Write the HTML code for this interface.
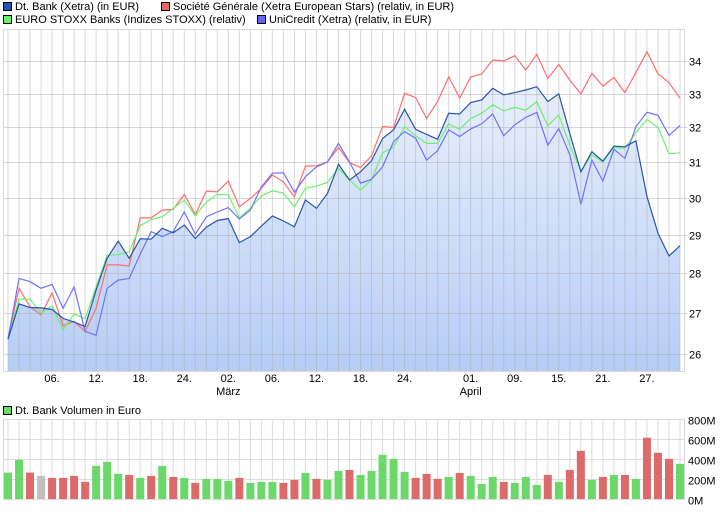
<!DOCTYPE html>
<html><head><meta charset="utf-8">
<style>
html,body{margin:0;padding:0;background:#fff;}
body{width:726px;height:508px;overflow:hidden;font-family:"Liberation Sans",sans-serif;}
svg text{font-family:"Liberation Sans",sans-serif;font-size:11px;fill:#000;}
</style></head>
<body>
<svg id="chart" width="726" height="508" xmlns="http://www.w3.org/2000/svg">
<defs>
<linearGradient id="fillGrad" x1="0" y1="30" x2="0" y2="371" gradientUnits="userSpaceOnUse">
<stop offset="0" stop-color="#f2f6fe"/><stop offset="1" stop-color="#b6cdf6"/>
</linearGradient>
</defs>
<g>
<g><rect x="3.5" y="2.5" width="8" height="8" fill="#1f55b8" stroke="#000"/><text x="15" y="10">Dt. Bank (Xetra) (in EUR)</text></g>
<g><rect x="161.5" y="2.5" width="8" height="8" fill="#f06464" stroke="#000"/><text x="173" y="10">Société Générale (Xetra European Stars) (relativ, in EUR)</text></g>
<g><rect x="3.5" y="15.5" width="8" height="8" fill="#64f064" stroke="#000"/><text x="15" y="23">EURO STOXX Banks (Indizes STOXX) (relativ)</text></g>
<g><rect x="257.5" y="15.5" width="8" height="8" fill="#6464f0" stroke="#000"/><text x="269" y="23">UniCredit (Xetra) (relativ, in EUR)</text></g>
</g>
<g id="main"></g>
<g><rect x="3.5" y="406.5" width="8" height="8" fill="#6ad96a" stroke="#000"/><text x="15" y="414">Dt. Bank Volumen in Euro</text></g>
<g id="vol"></g>
</svg>
<script>
const dtBank=[26.35,27.22,27.13,27.12,27.08,26.86,26.77,26.66,27.57,28.38,28.83,28.38,28.89,28.88,29.17,29.05,29.26,28.90,29.20,29.38,29.43,28.79,28.95,29.23,29.50,29.37,29.21,29.94,29.71,30.12,30.93,30.49,30.72,31.03,31.67,31.92,32.53,31.94,31.79,31.65,32.41,32.39,32.73,32.81,33.16,32.96,33.03,33.11,33.21,32.76,32.99,31.82,30.72,31.29,31.02,31.45,31.43,31.60,30.03,29.04,28.44,28.71];
const socGen=[26.36,27.61,27.15,26.95,27.49,26.68,26.79,26.54,27.11,28.21,28.21,28.18,29.45,29.45,29.66,29.68,30.09,29.54,30.18,30.16,30.46,29.75,29.98,30.26,30.63,30.44,30.02,30.88,30.89,31.00,31.41,30.98,30.84,31.17,32.02,31.99,33.01,32.88,32.26,32.76,33.51,32.86,33.51,33.60,34.03,34.00,34.17,33.72,34.21,33.46,33.89,33.41,32.99,33.62,33.23,33.49,33.03,33.64,34.29,33.60,33.33,32.86];
const stoxx=[26.36,27.34,27.34,26.99,27.17,26.58,26.97,26.85,27.65,28.46,28.47,28.55,29.24,29.41,29.48,29.71,29.93,29.51,29.88,30.09,30.08,29.45,29.72,30.05,30.19,30.13,29.75,30.26,30.32,30.42,30.82,30.49,30.21,30.49,31.26,31.42,32.02,31.75,31.53,31.53,32.10,31.94,32.26,32.41,32.66,32.48,32.59,32.50,32.76,32.04,32.36,31.48,30.74,31.20,31.00,31.41,31.39,31.84,32.23,31.99,31.23,31.26];
const uniCredit=[26.36,27.86,27.78,27.61,27.71,27.11,27.65,26.54,26.45,27.61,27.82,27.86,28.49,29.08,28.95,29.08,29.61,29.01,29.48,29.61,29.73,29.42,29.66,30.30,30.68,30.69,30.15,30.58,30.86,31.00,31.53,31.00,30.40,30.51,30.86,31.58,31.87,31.68,31.05,31.32,31.92,31.73,31.95,32.10,32.39,31.75,32.07,32.29,32.44,31.48,31.96,31.20,29.82,31.05,30.46,31.36,31.10,32.02,32.44,32.35,31.76,32.05];
const volume=[264,392,264,231,211,211,231,171,331,372,251,241,211,231,331,221,211,161,201,201,181,211,161,171,171,161,191,261,201,191,281,291,241,281,442,402,271,211,251,201,221,261,231,151,221,171,161,221,141,241,171,291,482,191,221,241,241,201,613,462,402,351];
const volColor=["g","g","r","n","r","r","r","r","g","g","g","r","g","r","g","r","g","r","g","g","g","r","g","g","g","r","r","g","r","g","g","r","g","g","g","g","g","r","r","r","g","r","g","g","g","r","g","g","g","r","g","r","r","g","r","g","r","g","r","r","r","g"];
const yTicks=[26,27,28,29,30,31,32,33,34];
const volTicks=[0,200,400,600,800];
const volTickLabels=["0M","200M","400M","600M","800M"];
const dateIdx=[4,8,12,16,20,24,28,32,36,42,46,50,54,58];
const dateLabels=["06.","12.","18.","24.","02.","06.","12.","18.","24.","01.","09.","15.","21.","27."];
const monthIdx=[20,42];
const monthLabels=["März","April"];

const NS="http://www.w3.org/2000/svg";
function mk(parent,tag,attrs,txt){const e=document.createElementNS(NS,tag);for(const k in attrs)e.setAttribute(k,attrs[k]);if(txt!==undefined)e.textContent=txt;parent.appendChild(e);return e;}
const N=dtBank.length;
const xS=i=>8+i*(672/(N-1));
const yS=v=>61+(Math.log(34)-Math.log(v))*1092;
const vS=v=>499-v*0.1;

const main=document.getElementById('main');
// frame & grid
mk(main,'rect',{x:3.5,y:29.5,width:681,height:342,fill:'#fff',stroke:'#d8d8d8'});
const gridG=mk(main,'g',{});


// fill
let pts=dtBank.map((v,i)=>xS(i).toFixed(1)+','+yS(v).toFixed(1));
const area=mk(main,'polygon',{points:xS(0)+',371 '+pts.join(' ')+' '+xS(N-1)+',371',fill:'url(#fillGrad)'});


for(let i=0;i<N;i++){mk(main,'line',{x1:xS(i),x2:xS(i),y1:30,y2:371,stroke:'#a8a8a8','stroke-opacity':0.45,'stroke-width':1});}
yTicks.forEach(t=>{const y=Math.round(yS(t))+0.5;mk(main,'line',{x1:4,x2:684,y1:y,y2:y,stroke:'#a8a8a8','stroke-opacity':0.45});
 const tl=mk(main,'text',{x:689,y:y+4},String(t));
 
 
 mk(main,'line',{x1:684,x2:687,y1:y,y2:y,stroke:'#ccc'});});
dateIdx.forEach((d,k)=>{const t=mk(main,'text',{x:xS(d),y:382,'text-anchor':'middle'},dateLabels[k]);
 
 });
monthIdx.forEach((d,k)=>{const t=mk(main,'text',{x:xS(d),y:395,'text-anchor':'middle'},monthLabels[k]);
 
 });
function series(data,color,name){const p=mk(main,'polyline',{points:data.map((v,i)=>xS(i).toFixed(1)+','+yS(v).toFixed(1)).join(' '),fill:'none',stroke:color,'stroke-width':1.2});
 
 }
series(socGen,'#ff6e6e','societe-generale-line');
series(stoxx,'#6ef06e','euro-stoxx-banks-line');
series(uniCredit,'#7272ff','unicredit-line');
series(dtBank,'#2656b0','dt-bank-line');

const vol=document.getElementById('vol');
mk(vol,'rect',{x:3.5,y:419.5,width:681,height:80,fill:'#fff',stroke:'#d8d8d8'});
for(let i=0;i<N;i++){mk(vol,'line',{x1:xS(i),x2:xS(i),y1:419,y2:499,stroke:'#dcdcdc'});}
volTicks.forEach((t,k)=>{const y=vS(t)+0.5;mk(vol,'line',{x1:4,x2:684,y1:y,y2:y,stroke:'#dcdcdc'});
 const tl=mk(vol,'text',{x:688,y:y+5,'font-size':'12'},volTickLabels[k]);
 
 });
const cmap={g:'#6ad96a',r:'#dc6a6a',n:'#c0c0c0'};
volume.forEach((v,i)=>{const b=mk(vol,'rect',{x:xS(i)-4,y:vS(v),width:8,height:499-vS(v),fill:cmap[volColor[i]]});
 
 });
</script>
</body></html>
